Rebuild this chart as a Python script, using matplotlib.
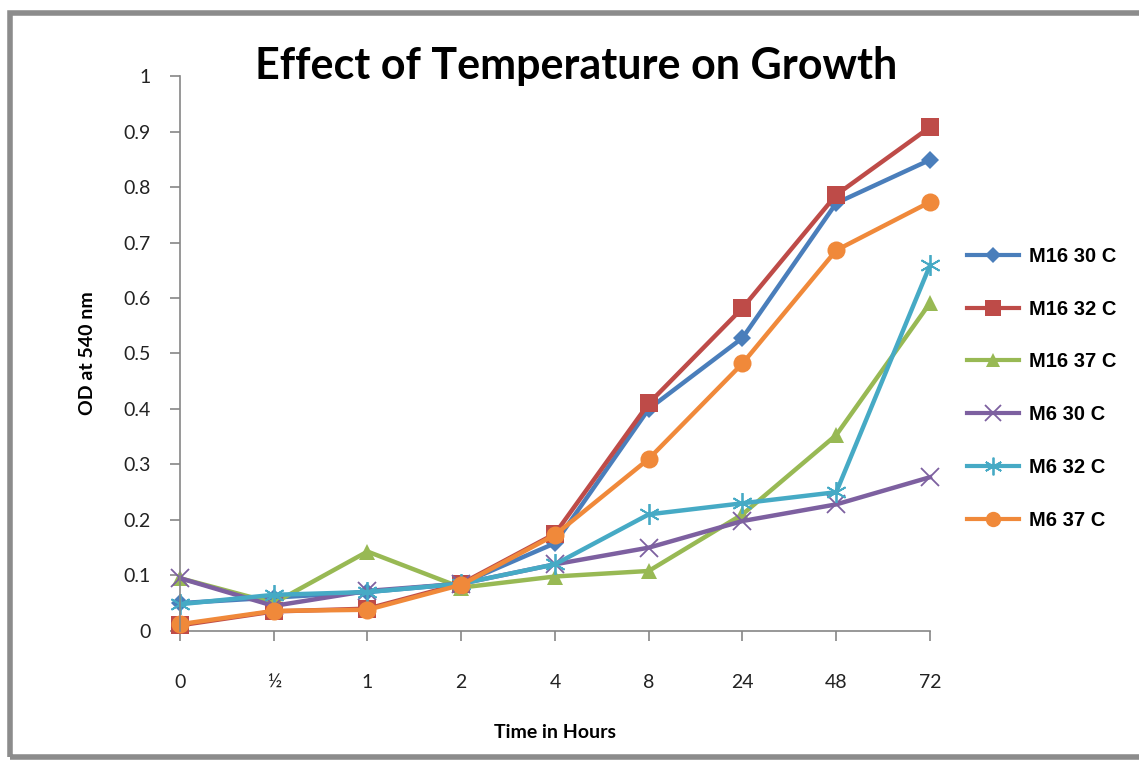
import matplotlib.pyplot as plt
from matplotlib.patches import Rectangle

# Time points (category axis) and OD readings per strain / temperature
hours = ['0', '½', '1', '2', '4', '8', '24', '48', '72']

m16_30 = [0.050, 0.060, 0.070, 0.085, 0.158, 0.400, 0.528, 0.771, 0.849]
m16_32 = [0.010, 0.035, 0.040, 0.085, 0.175, 0.410, 0.582, 0.786, 0.908]
m16_37 = [0.095, 0.050, 0.143, 0.078, 0.098, 0.108, 0.210, 0.353, 0.591]
m6_30 = [0.095, 0.045, 0.072, 0.085, 0.120, 0.150, 0.198, 0.228, 0.277]
m6_32 = [0.048, 0.065, 0.070, 0.085, 0.120, 0.210, 0.230, 0.250, 0.659]
m6_37 = [0.012, 0.036, 0.038, 0.083, 0.173, 0.310, 0.482, 0.686, 0.773]

labels = ['M16 30 C', 'M16 32 C', 'M16 37 C', 'M6 30 C', 'M6 32 C', 'M6 37 C']
series = [m16_30, m16_32, m16_37, m6_30, m6_32, m6_37]
colors = ['#4A7EBB', '#BE4B48', '#98B954', '#7D60A0', '#46AAC5', '#F0893A']
markers = ['D', 's', '^', 'x', '*', 'o']
msizes = [9, 13, 12, 13, 15, 13]

fig = plt.figure(figsize=(11.39, 7.61), dpi=100)
ax = fig.add_axes([0.158, 0.171, 0.6585, 0.729])

# grey outer frame of the chart area
fig.patches.append(Rectangle((0.009, 0.005), 1.2, 0.978, transform=fig.transFigure,
                             fill=False, edgecolor='#8c8c8c', linewidth=4))

x = list(range(len(hours)))
for vals, lab, col, mk, ms in zip(series, labels, colors, markers, msizes):
    if mk in ('x', '*'):
        ax.plot(x, vals, color=col, linewidth=3.2, marker='x' if mk == 'x' else (6, 2, 0),
                markersize=ms, markeredgewidth=1.3, label=lab, clip_on=False)
    else:
        ax.plot(x, vals, color=col, linewidth=3.2, marker=mk, markersize=ms,
                markeredgewidth=0, label=lab, clip_on=False)

ax.set_xlim(0, len(hours) - 1)
ax.set_ylim(0, 1)
ax.set_xticks(x)
ax.set_xticklabels(hours)
ax.set_yticks([i / 10 for i in range(11)])
ax.set_yticklabels(['0'] + ['0.%d' % i for i in range(1, 10)] + ['1'])

for side in ('top', 'right'):
    ax.spines[side].set_visible(False)
for side in ('left', 'bottom'):
    ax.spines[side].set_color('#868686')
    ax.spines[side].set_linewidth(1.2)
ax.spines['bottom'].set_zorder(0)
ax.tick_params(axis='both', direction='out', color='#868686', width=1.2, length=7,
               labelsize=14, labelcolor='#222222')
ax.tick_params(axis='x', pad=24)
ax.tick_params(axis='y', pad=14)
for t in ax.get_xticklabels() + ax.get_yticklabels():
    t.set_family('Lato')

fig.text(576 / 1139, 1 - 66 / 761, 'Effect of Temperature on Growth', fontsize=31,
         fontweight='bold', family='Lato', ha='center', va='center')
ax.set_xlabel('Time in Hours', fontsize=14, fontweight='bold', family='Lato', labelpad=24)
ax.set_ylabel('OD at 540 nm', fontsize=14, fontweight='bold', family='Lato', labelpad=20)

leg = ax.legend(loc='upper left', bbox_to_anchor=(1.025, 0.725), frameon=False,
                prop={'family': 'Liberation Sans', 'weight': 'bold', 'size': 14.5},
                labelspacing=1.68, handlelength=2.6, handletextpad=0.5, markerscale=0.85)
for ln in leg.get_lines():
    ln.set_linewidth(3)

fig.savefig('out.png', dpi=100)
